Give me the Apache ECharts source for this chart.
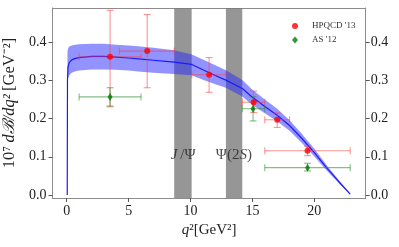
<!DOCTYPE html>
<html>
<head>
<meta charset="utf-8">
<script src="https://cdn.jsdelivr.net/npm/echarts@6/dist/echarts.min.js"></script>
<style>html,body{margin:0;padding:0;background:#fff}#c{width:399px;height:247px}</style>
</head>
<body>
<div id="c"></div>
<script>
// ---- data ----
const xTicks = [0, 5, 10, 15, 20];
const yTicks = [0, 0.1, 0.2, 0.3, 0.4];

// central curve
const curveQ = [0.04, 0.06, 0.1, 0.2, 0.4, 0.7, 1, 2, 3, 4, 5, 6, 7, 8, 8.68, 10.1, 11, 12, 12.86, 14.18, 15, 16, 17, 18, 19, 20, 21, 22, 22.9];
const curveV = [0.0, 0.30, 0.335, 0.347, 0.354, 0.358, 0.360, 0.363, 0.363, 0.361, 0.359, 0.356, 0.353, 0.350, 0.348, 0.342, 0.328, 0.313, 0.301, 0.279, 0.256, 0.232, 0.209, 0.182, 0.148, 0.111, 0.071, 0.034, 0.002];

// uncertainty band
const bandQ  = [0.06, 0.1, 0.2, 0.4, 0.7, 1, 2, 3, 4, 5, 6, 7, 8, 8.68, 10.1, 11, 12, 12.86, 14.18, 15, 16, 17, 18, 19, 20, 21, 22, 22.9];
const bandLo = [0.300, 0.305, 0.313, 0.320, 0.324, 0.326, 0.329, 0.329, 0.328, 0.326, 0.323, 0.320, 0.318, 0.317, 0.314, 0.302, 0.290, 0.281, 0.258, 0.236, 0.214, 0.193, 0.168, 0.136, 0.101, 0.064, 0.030, 0.001];
const bandHi = [0.375, 0.383, 0.389, 0.392, 0.394, 0.395, 0.396, 0.396, 0.394, 0.392, 0.389, 0.386, 0.382, 0.379, 0.368, 0.355, 0.340, 0.327, 0.301, 0.276, 0.250, 0.226, 0.196, 0.160, 0.121, 0.078, 0.038, 0.003];

// resonance vetoes
const vetoLo = [8.68, 12.86];
const vetoHi = [10.09, 14.18];
const vetoNames = ['{i|J}{n|\u2009/Ψ}', '{n|Ψ(2}{i|S}{n|)}'];
const vetoLabelQ = [9.4, 13.5];
const vetoLabelY = [0.105, 0.105];

// HPQCD '13
const hpQ   = [3.5, 6.5, 11.5, 15.1, 17.0, 19.45];
const hpV   = [0.362, 0.377, 0.315, 0.243, 0.197, 0.116];
const hpQLo = [1.0, 4.25, 10.1, 14.18, 16.0, 16.0];
const hpQHi = [6.0, 8.68, 12.86, 16.0, 18.0, 22.9];
const hpVLo = [0.231, 0.281, 0.269, 0.216, 0.177, 0.103];
const hpVHi = [0.484, 0.473, 0.360, 0.272, 0.215, 0.128];

// AS '12
const asQ   = [3.5, 15.05, 19.45];
const asV   = [0.257, 0.226, 0.0715];
const asQLo = [1.0, 14.18, 16.0];
const asQHi = [6.0, 16.0, 22.9];
const asVLo = [0.233, 0.194, 0.063];
const asVHi = [0.281, 0.257, 0.083];

// ---- chart ----
const FONT = 'Liberation Serif';
const AX = '#8c8c8c';
const chart = echarts.init(document.getElementById('c'), null, {renderer: 'canvas'});

function errData(q, v, ql, qh, vl, vh) {
  return q.map((x, i) => [x, v[i], ql[i], qh[i], vl[i], vh[i]]);
}
function errRender(color) {
  return function (params, api) {
    const x = api.value(0), y = api.value(1);
    const pL = api.coord([api.value(2), y]);
    const pR = api.coord([api.value(3), y]);
    const pB = api.coord([x, api.value(4)]);
    const pT = api.coord([x, api.value(5)]);
    const c = 3.5;
    const st = {stroke: color, lineWidth: 1.1, fill: null};
    const L = (x1, y1, x2, y2) => ({type: 'line', shape: {x1, y1, x2, y2}, style: st});
    return {type: 'group', children: [
      L(pL[0], pL[1], pR[0], pR[1]),
      L(pL[0], pL[1] - c, pL[0], pL[1] + c),
      L(pR[0], pR[1] - c, pR[0], pR[1] + c),
      L(pB[0], pB[1], pT[0], pT[1]),
      L(pB[0] - c, pB[1], pB[0] + c, pB[1]),
      L(pT[0] - c, pT[1], pT[0] + c, pT[1])
    ]};
  };
}

const tickLabel = {fontFamily: FONT, fontSize: 14, color: '#222'};

chart.setOption({
  animation: false,
  backgroundColor: '#fff',
  grid: {left: 52.5, right: 33.3, top: 8, bottom: 49, containLabel: false, outerBoundsMode: 'none'},
  legend: {
    orient: 'vertical', left: 287, top: 16,
    itemWidth: 6, itemHeight: 7, itemGap: 4,
    data: ["HPQCD '13", "AS '12"],
    textStyle: {fontFamily: FONT, fontSize: 9, color: '#333', lineHeight: 10, padding: [0, 0, 0, 9]}
  },
  xAxis: [{
    type: 'value', min: -1.15, max: 24.15,
    name: '{i|q}{n|²[GeV²]}', nameLocation: 'middle', nameGap: 24,
    nameTextStyle: {rich: {i: {fontFamily: FONT, fontSize: 15, fontStyle: 'italic', color: '#222'}, n: {fontFamily: FONT, fontSize: 15, color: '#222'}}},
    axisLine: {show: true, onZero: false, lineStyle: {color: AX, width: 1}},
    axisTick: {show: true, length: 4, customValues: xTicks, lineStyle: {color: '#555'}},
    axisLabel: {customValues: xTicks, margin: 6, ...tickLabel},
    splitLine: {show: false}
  }, {
    type: 'value', min: -1.15, max: 24.15, position: 'top',
    axisLine: {show: true, onZero: false, lineStyle: {color: AX, width: 1}},
    axisTick: {show: false}, axisLabel: {show: false}, splitLine: {show: false}
  }],
  yAxis: [{
    type: 'value', min: -0.008, max: 0.49,
    name: '{n|10⁷\u2009}{i|dℬ/dq²} {n|[GeV⁻²]}', nameLocation: 'middle', nameGap: 27, nameRotate: 90,
    nameTextStyle: {rich: {i: {fontFamily: FONT, fontSize: 16.5, fontStyle: 'italic', color: '#222'}, n: {fontFamily: FONT, fontSize: 16.5, color: '#222'}}},
    axisLine: {show: true, onZero: false, lineStyle: {color: AX, width: 1}},
    axisTick: {show: true, length: 4, customValues: yTicks, lineStyle: {color: '#555'}},
    axisLabel: {customValues: yTicks, margin: 6, formatter: v => v.toFixed(1), ...tickLabel},
    splitLine: {show: false}
  }, {
    type: 'value', min: -0.008, max: 0.49, position: 'right',
    axisLine: {show: true, onZero: false, lineStyle: {color: AX, width: 1}},
    axisTick: {show: true, length: 4, customValues: yTicks, lineStyle: {color: '#555'}},
    axisLabel: {customValues: yTicks, margin: 5, formatter: v => v.toFixed(1), ...tickLabel},
    splitLine: {show: false}
  }],
  series: [
    {
      name: 'veto', type: 'custom', z: 1, silent: true,
      data: vetoLo.map((a, i) => [a, vetoHi[i]]),
      renderItem: function (params, api) {
        const cs = params.coordSys;
        const a = api.coord([api.value(0), 0])[0];
        const b = api.coord([api.value(1), 0])[0];
        return {type: 'rect', shape: {x: a, y: cs.y, width: b - a, height: cs.height},
          style: {fill: 'rgba(120,120,120,0.78)'}};
      }
    },
    {
      name: 'band', type: 'custom', z: 2, silent: true,
      data: bandQ.map((q, i) => [q, bandLo[i], bandHi[i]]),
      renderItem: function (params, api) {
        if (params.dataIndex !== 0) return null;
        const pts = [];
        for (let i = 0; i < bandQ.length; i++) pts.push(api.coord([bandQ[i], bandHi[i]]));
        for (let i = bandQ.length - 1; i >= 0; i--) pts.push(api.coord([bandQ[i], bandLo[i]]));
        return {type: 'polygon', shape: {points: pts}, style: {fill: 'rgba(40,40,255,0.5)'}};
      }
    },
    {
      name: 'curve', type: 'line', z: 3, silent: true, showSymbol: false, symbol: 'none',
      data: curveQ.map((q, i) => [q, curveV[i]]),
      lineStyle: {color: '#1a1aff', width: 1.2}
    },
    {
      name: 'hpErr', type: 'custom', z: 4, silent: true,
      data: errData(hpQ, hpV, hpQLo, hpQHi, hpVLo, hpVHi),
      renderItem: errRender('rgba(255,60,60,0.55)')
    },
    {
      name: 'asErr', type: 'custom', z: 4, silent: true,
      data: errData(asQ, asV, asQLo, asQHi, asVLo, asVHi),
      renderItem: errRender('rgba(30,140,30,0.55)')
    },
    {
      name: "HPQCD '13", type: 'scatter', z: 5, symbol: 'circle', symbolSize: 6,
      data: hpQ.map((q, i) => [q, hpV[i]]),
      itemStyle: {color: '#ff0000'}
    },
    {
      name: "AS '12", type: 'scatter', z: 5, symbol: 'diamond', symbolSize: [5, 8],
      data: asQ.map((q, i) => [q, asV[i]]),
      itemStyle: {color: '#007a00'}
    },
    {
      name: 'labels', type: 'scatter', z: 6, symbolSize: 0, silent: true,
      data: vetoLabelQ.map((q, i) => ({value: [q, vetoLabelY[i]], name: vetoNames[i]})),
      label: {
        show: true, position: 'inside', formatter: p => p.name,
        rich: {
          i: {fontFamily: FONT, fontSize: 15, fontStyle: 'italic', color: '#222'},
          n: {fontFamily: FONT, fontSize: 15, color: '#222'}
        }
      }
    }
  ]
});
</script>
</body>
</html>
